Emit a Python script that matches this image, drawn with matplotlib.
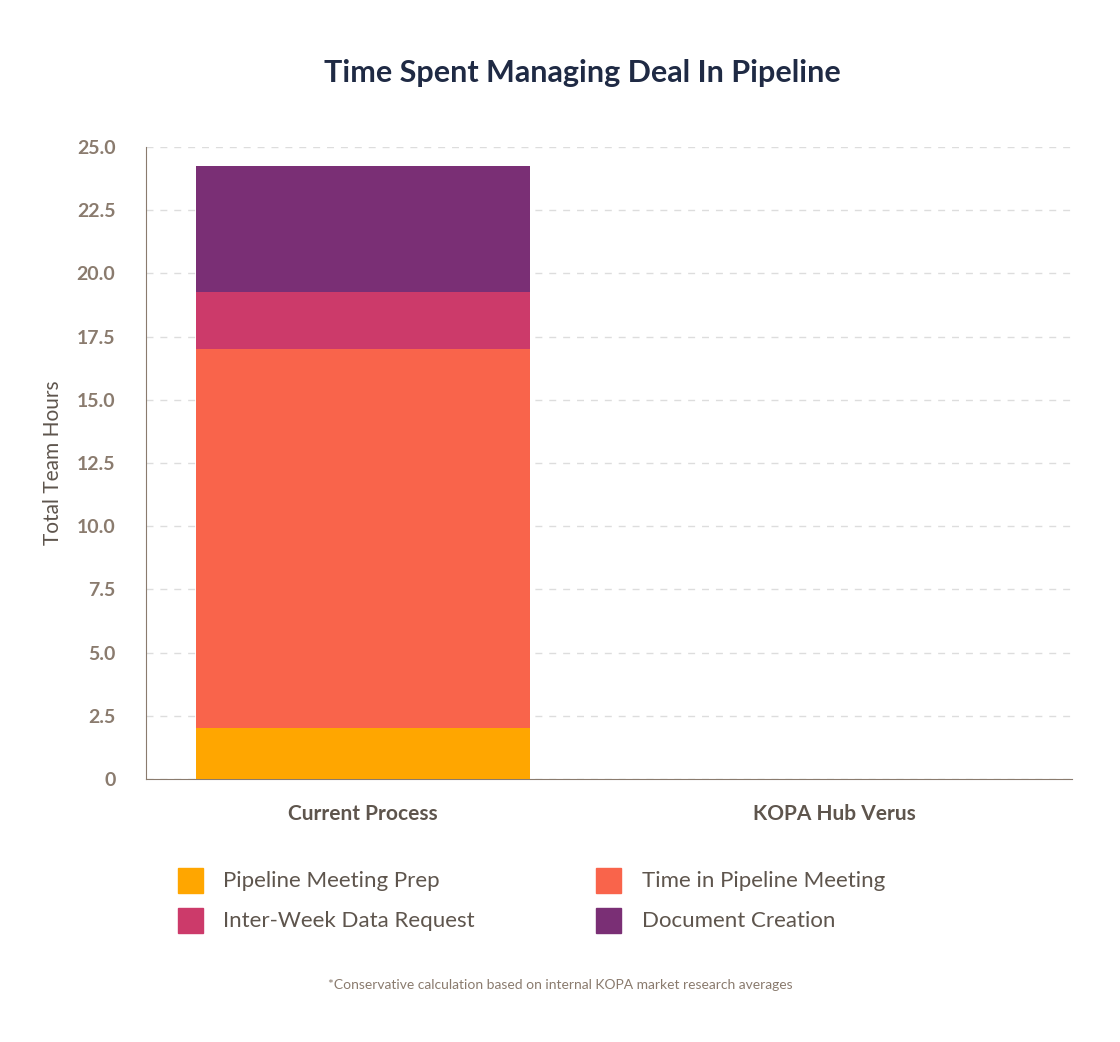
import matplotlib.pyplot as plt
from matplotlib.lines import Line2D

categories = ['Current Process', 'KOPA Hub Verus']
series = ['Pipeline Meeting Prep', 'Time in Pipeline Meeting', 'Inter-Week Data Request', 'Document Creation']
values = {
    'Pipeline Meeting Prep': [2.0, 0],
    'Time in Pipeline Meeting': [15.0, 0],
    'Inter-Week Data Request': [2.25, 0],
    'Document Creation': [5.0, 0],
}
colors = ['#ffa600', '#f9644b', '#cc3a6a', '#7a2f75']
yticks = [0, 2.5, 5, 7.5, 10, 12.5, 15, 17.5, 20, 22.5, 25]
ylabels = ['0', '2.5', '5.0', '7.5', '10.0', '12.5', '15.0', '17.5', '20.0', '22.5', '25.0']

plt.rcParams['font.family'] = ['Lato', 'DejaVu Sans']
fig = plt.figure(figsize=(11.2, 10.42), dpi=100)
ax = fig.add_axes([146/1120, 1-779/1042, 926/1120, 632/1042])

x = list(range(len(categories)))
bottom = [0.0] * len(categories)
for name, c in zip(series, colors):
    ax.bar(x, values[name], 0.709, bottom=bottom, color=c, zorder=3)
    bottom = [b + v for b, v in zip(bottom, values[name])]

ax.set_xlim(-0.461, 1.505)
ax.set_ylim(0, 25)
ax.set_yticks(yticks)
ax.set_yticklabels(ylabels, fontsize=14, fontweight='bold', color='#8a7b6e')
ax.set_xticks(x)
ax.set_xticklabels(categories, fontsize=15, fontweight='bold', color='#5e554d')
ax.tick_params(axis='y', length=0, pad=22)
ax.tick_params(axis='x', length=0, pad=18)
ax.yaxis.grid(True, linestyle=(0, (5, 5)), color='#dddddd', lw=1, zorder=0)
for s in ['top', 'right']:
    ax.spines[s].set_visible(False)
for s in ['left', 'bottom']:
    ax.spines[s].set_color('#8a7b6e')
ax.set_ylabel('Total Team Hours', fontsize=15, color='#5e554d', labelpad=10)

fig.text(0.52, 0.93, 'Time Spent Managing Deal In Pipeline', ha='center', va='center',
         fontsize=22, fontweight='bold', color='#1f2a44')

order = [0, 2, 1, 3]
handles = [Line2D([], [], marker='s', ls='', ms=18, color=colors[i]) for i in order]
fig.legend(handles, [series[i] for i in order], ncol=2, loc='center',
           bbox_to_anchor=(0.47, 0.135), frameon=False, fontsize=16,
           labelcolor='#5e554d', columnspacing=5, handletextpad=0.5, labelspacing=0.9)

fig.text(0.5, 0.051, '*Conservative calculation based on internal KOPA market research averages',
         ha='center', fontsize=10, color='#8a7b6e')

fig.savefig('out.png', dpi=100)
